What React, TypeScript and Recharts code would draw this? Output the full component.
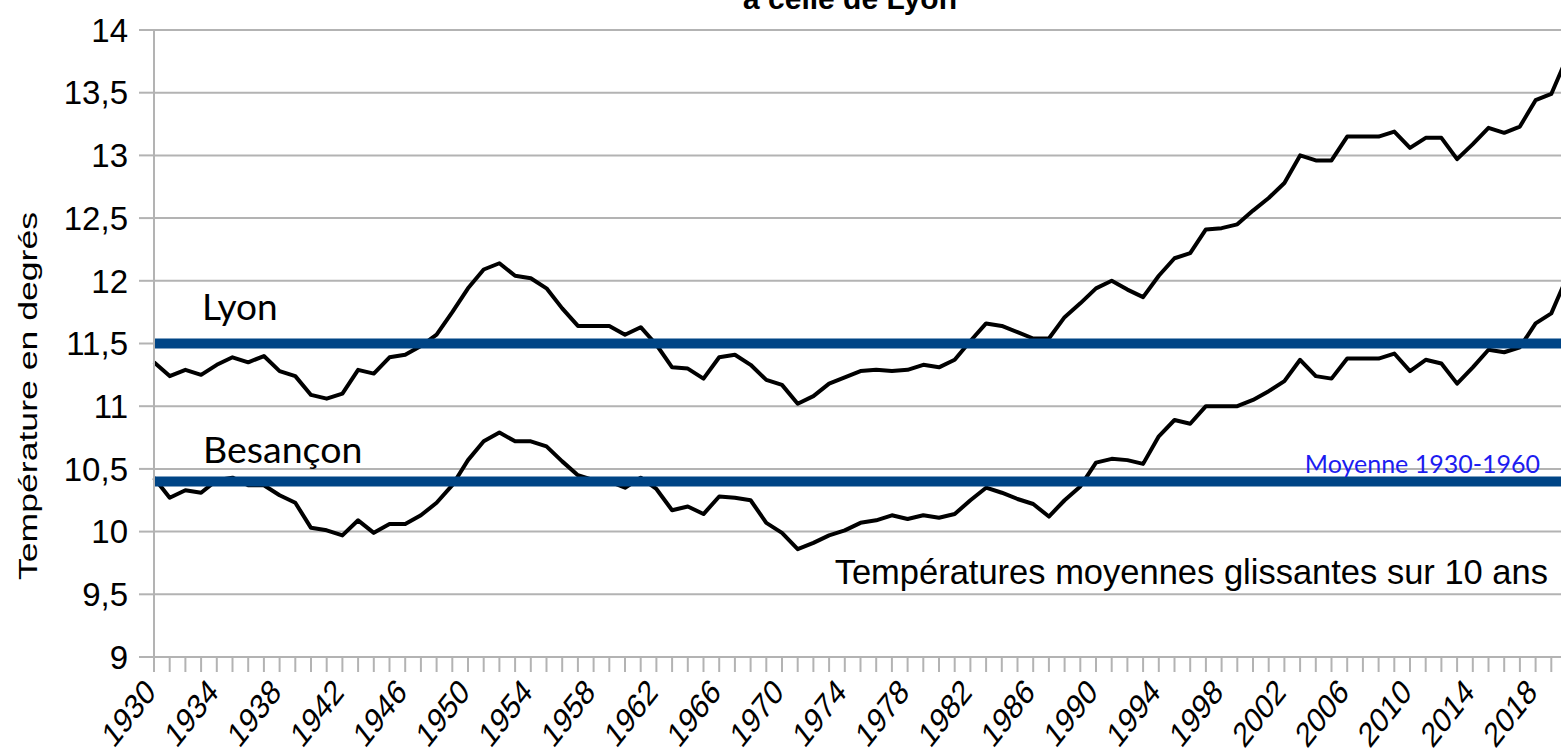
import React from "react";
import { LineChart, Line, XAxis, YAxis, CartesianGrid, ReferenceLine } from "recharts";

const years = [
  1930, 1931, 1932, 1933, 1934, 1935, 1936, 1937, 1938, 1939,
  1940, 1941, 1942, 1943, 1944, 1945, 1946, 1947, 1948, 1949,
  1950, 1951, 1952, 1953, 1954, 1955, 1956, 1957, 1958, 1959,
  1960, 1961, 1962, 1963, 1964, 1965, 1966, 1967, 1968, 1969,
  1970, 1971, 1972, 1973, 1974, 1975, 1976, 1977, 1978, 1979,
  1980, 1981, 1982, 1983, 1984, 1985, 1986, 1987, 1988, 1989,
  1990, 1991, 1992, 1993, 1994, 1995, 1996, 1997, 1998, 1999,
  2000, 2001, 2002, 2003, 2004, 2005, 2006, 2007, 2008, 2009,
  2010, 2011, 2012, 2013, 2014, 2015, 2016, 2017, 2018, 2019,
  2020,
];

// moyennes glissantes sur 10 ans
const lyon = [
  11.35, 11.24, 11.29, 11.25, 11.33, 11.39, 11.35, 11.4, 11.28, 11.24,
  11.09, 11.06, 11.1, 11.29, 11.26, 11.39, 11.41, 11.48, 11.57, 11.75,
  11.94, 12.09, 12.14, 12.04, 12.02, 11.94, 11.78, 11.64, 11.64, 11.64,
  11.57, 11.63, 11.49, 11.31, 11.3, 11.22, 11.39, 11.41, 11.33, 11.21,
  11.17, 11.02, 11.08, 11.18, 11.23, 11.28, 11.29, 11.28, 11.29, 11.33,
  11.31, 11.37, 11.52, 11.66, 11.64, 11.59, 11.54, 11.54, 11.71, 11.82,
  11.94, 12.0, 11.93, 11.87, 12.04, 12.18, 12.22, 12.41, 12.42, 12.45,
  12.56, 12.66, 12.78, 13.0, 12.96, 12.96, 13.15, 13.15, 13.15, 13.19,
  13.06, 13.14, 13.14, 12.97, 13.09, 13.22, 13.18, 13.23, 13.44, 13.49,
  13.78,
];

const besancon = [
  10.43, 10.27, 10.33, 10.31, 10.41, 10.43, 10.37, 10.37, 10.29, 10.23,
  10.03, 10.01, 9.97, 10.09, 9.99, 10.06, 10.06, 10.13, 10.23, 10.37,
  10.57, 10.72, 10.79, 10.72, 10.72, 10.68, 10.56, 10.45, 10.41, 10.4,
  10.35, 10.43, 10.34, 10.17, 10.2, 10.14, 10.28, 10.27, 10.25, 10.07,
  9.99, 9.86, 9.91, 9.97, 10.01, 10.07, 10.09, 10.13, 10.1, 10.13,
  10.11, 10.14, 10.25, 10.35, 10.31, 10.26, 10.22, 10.12, 10.25, 10.36,
  10.55, 10.58, 10.57, 10.54, 10.76, 10.89, 10.86, 11.0, 11.0, 11.0,
  11.05, 11.12, 11.2, 11.37, 11.24, 11.22, 11.38, 11.38, 11.38, 11.42,
  11.28, 11.37, 11.34, 11.18, 11.31, 11.45, 11.43, 11.47, 11.66, 11.74,
  12.03,
];

// moyennes 1930-1960
const lyonMean = 11.5;
const besanconMean = 10.4;

const yTicks = [9, 9.5, 10, 10.5, 11, 11.5, 12, 12.5, 13, 13.5, 14];

const data = years.map((year, i) => ({ year, lyon: lyon[i], besancon: besancon[i] }));

const ARIAL = '"Liberation Sans", Arial, sans-serif';
const CALIBRI = 'Lato, "Open Sans", sans-serif';
const GRID = "#b3b3b3";

// one label every 4 years, slanted like the original
function YearTick(props: any) {
  const { x, y, payload } = props;
  if (Number(payload.value) % 4 !== 2) return <g />;
  const tx = x + 3;
  const ty = y + 22;
  return (
    <text
      x={0}
      y={0}
      transform={`translate(${tx} ${ty}) scale(1 1.28) rotate(-45)`}
      textAnchor="end"
      fontSize={27.5}
      fontFamily={ARIAL}
      fill="#000"
    >
      {payload.value}
    </text>
  );
}

export default function App() {
  return (
    <div
      style={{
        position: "fixed",
        left: 0,
        top: 0,
        width: 1561,
        height: 755,
        overflow: "hidden",
        background: "#fff",
      }}
    >
      <LineChart
        width={1577}
        height={755}
        data={data}
        margin={{ top: 30, right: 10, bottom: 0, left: 0 }}
        style={{ fontFamily: ARIAL }}
      >
        <CartesianGrid vertical={false} stroke={GRID} strokeWidth={2} />
        <XAxis
          dataKey="year"
          interval={0}
          height={98}
          tickSize={15}
          tickMargin={0}
          axisLine={{ stroke: GRID, strokeWidth: 2 }}
          tickLine={{ stroke: GRID, strokeWidth: 2 }}
          tick={<YearTick />}
        />
        <YAxis
          width={154}
          domain={[9, 14]}
          ticks={yTicks}
          interval={0}
          tickSize={15}
          tickMargin={11}
          axisLine={{ stroke: GRID, strokeWidth: 2 }}
          tickLine={{ stroke: GRID, strokeWidth: 2 }}
          tick={{ fontSize: 33, fill: "#000", fontFamily: ARIAL }}
          tickFormatter={(v) => String(v).replace(".", ",")}
        />
        <Line
          dataKey="lyon"
          stroke="#000"
          strokeWidth={4}
          dot={false}
          isAnimationActive={false}
          strokeLinejoin="round"
        />
        <Line
          dataKey="besancon"
          stroke="#000"
          strokeWidth={4}
          dot={false}
          isAnimationActive={false}
          strokeLinejoin="round"
        />
        <ReferenceLine y={lyonMean} stroke="#004586" strokeWidth={10} />
        <ReferenceLine y={besanconMean} stroke="#004586" strokeWidth={10} />
      </LineChart>

      <svg
        width={1561}
        height={755}
        style={{ position: "absolute", left: 0, top: 0, pointerEvents: "none" }}
      >
        <text x={850} y={9} textAnchor="middle" fontFamily={ARIAL} fontWeight="bold" fontSize={30} fill="#000">
          à celle de Lyon
        </text>
        <text
          x={37}
          y={396}
          transform="rotate(-90 37 396)"
          textAnchor="middle"
          fontFamily={ARIAL}
          fontSize={26}
          textLength={368}
          lengthAdjust="spacingAndGlyphs"
          fill="#000"
        >
          Température en degrés
        </text>
        <text x={202} y={320} fontFamily={CALIBRI} fontSize={37} fill="#000">
          Lyon
        </text>
        <text x={203} y={463} fontFamily={CALIBRI} fontSize={37.5} fill="#000">
          Besançon
        </text>
        <text x={1540} y={473} textAnchor="end" fontFamily={CALIBRI} fontSize={25} fill="#1c1cf0">
          Moyenne 1930-1960
        </text>
        <text x={1548} y={584} textAnchor="end" fontFamily={ARIAL} fontSize={34.5} fill="#000">
          Températures moyennes glissantes sur 10 ans
        </text>
      </svg>
    </div>
  );
}
